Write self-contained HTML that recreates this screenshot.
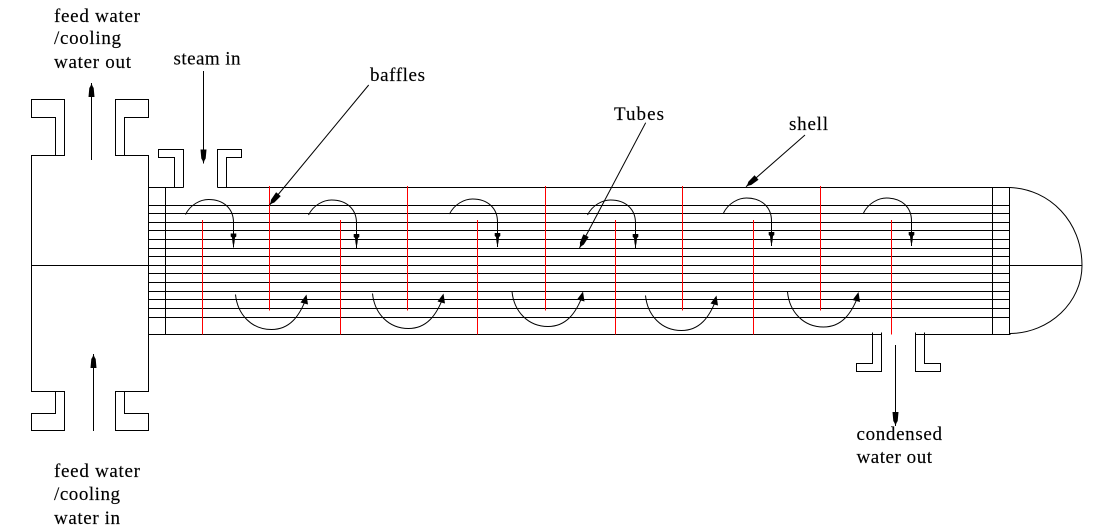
<!DOCTYPE html>
<html>
<head>
<meta charset="utf-8">
<style>
html,body{margin:0;padding:0;background:#fff;width:1098px;height:532px;overflow:hidden}
svg{display:block}
text{font-family:"Liberation Serif",serif;font-size:19px;fill:#000;stroke:#000;stroke-width:.15}
.c{shape-rendering:crispEdges;fill:none;stroke:#000;stroke-width:1}
.r{shape-rendering:crispEdges;fill:none;stroke:#f00;stroke-width:1}
.a{fill:none;stroke:#000;stroke-width:1}
</style>
</head>
<body>
<svg width="1098" height="532" viewBox="0 0 1098 532" xmlns="http://www.w3.org/2000/svg">
<defs>
<polygon id="h" points="0,0 3,-1 5,-2.2 14,-3 14,3 5,2.2 3,1" fill="#000"/>
<g id="top">
<path class="a" d="M0 0C5 -10 15 -15 23 -15C38 -15 48 -6 48 8L48 33"/>
<polygon points="48,33 47,28 46.5,23 45.2,22 45.2,19 50.8,19 50.8,22 49.5,23 49,28" fill="#000"/>
</g>
<g id="bot">
<path class="a" d="M0 0C2 20 16 35 36 35C54 35 64 22 71 3"/>
<polygon points="71,0 72.5,10 65,8" fill="#000"/>
</g>
</defs>

<!-- left channel -->
<path class="c" d="M55.5 155.5H31.5V391.5H55.5"/>
<path class="c" d="M124.5 155.5H148.5V391.5H124.5"/>
<path class="c" d="M55.5 155.5V117.5H31.5V99.5H64.5V155.5H55.5"/>
<path class="c" d="M124.5 155.5V117.5H148.5V99.5H115.5V155.5H124.5"/>
<path class="c" d="M55.5 391.5V413.5H31.5V430.5H64.5V391.5H55.5"/>
<path class="c" d="M124.5 391.5V413.5H148.5V430.5H115.5V391.5H124.5"/>
<path class="c" d="M31.5 265.5H148.5"/>

<!-- shell outline -->
<path class="c" d="M148.5 187.5H183.5M217.5 187.5H1010.5"/>
<path class="c" d="M148.5 334.5H881.5M915.5 334.5H1010.5"/>
<path class="c" d="M165.5 187.5V334.5M992.5 187.5V334.5M1009.5 187.5V334.5"/>

<!-- tubes -->
<path class="c" d="M148.5 205.5H1009.5M148.5 213.5H1009.5M148.5 222.5H1009.5M148.5 230.5H1009.5M148.5 239.5H1009.5M148.5 248.5H1009.5M148.5 256.5H1009.5M148.5 265.5H1082M148.5 273.5H1009.5M148.5 282.5H1009.5M148.5 291.5H1009.5M148.5 299.5H1009.5M148.5 308.5H1009.5M148.5 317.5H1009.5"/>

<!-- dome -->
<path class="a" d="M1010 187.5C1050 189 1082 222 1082 265.5C1082 302 1050 333 1010 333.5"/>

<!-- steam nozzle -->
<path class="c" d="M174.5 187.5V157.5H158.5V149.5H183.5V187.5"/>
<path class="c" d="M226.5 187.5V157.5H241.5V149.5H217.5V187.5"/>

<!-- condensate nozzle -->
<path class="c" d="M872.5 332.5V363.5H856.5V371.5H881.5V332.5"/>
<path class="c" d="M924.5 332.5V363.5H940.5V371.5H915.5V332.5"/>

<!-- baffles -->
<path class="r" d="M202.5 220V334.5M340.5 220V334.5M477.5 220V334.5M615.5 220V334.5M753.5 220V334.5M891.5 220V334.5"/>
<path class="r" d="M269.5 186V310.5M407.5 186V310.5M545.5 186V310.5M682.5 186V310.5M820.5 186V310.5"/>

<!-- straight arrows -->
<path class="c" d="M91.5 83V160"/>
<use href="#h" transform="translate(91.5 83) rotate(90)"/>
<path class="c" d="M203.5 71V163.5"/>
<use href="#h" transform="translate(203.5 163.5) rotate(-90)"/>
<path class="c" d="M93.5 354V431"/>
<use href="#h" transform="translate(93.5 354) rotate(90)"/>
<path class="c" d="M895.5 345V426"/>
<use href="#h" transform="translate(895.5 426) rotate(-90)"/>

<!-- leaders -->
<path class="a" d="M368.7 85L269.5 205"/>
<use href="#h" transform="translate(269.5 205) rotate(-50.4)"/>
<path class="a" d="M645.7 122.7L579.5 248"/>
<use href="#h" transform="translate(579.5 248) rotate(-62.1)"/>
<path class="a" d="M805 135L746 186.7"/>
<use href="#h" transform="translate(746 186.7) rotate(-41.2)"/>

<!-- flow arcs top -->
<use href="#top" transform="translate(185.5 214.5)"/>
<use href="#top" transform="translate(308.5 215)"/>
<use href="#top" transform="translate(449.5 214)"/>
<use href="#top" transform="translate(587.5 215)"/>
<use href="#top" transform="translate(723.5 213)"/>
<use href="#top" transform="translate(863.5 213)"/>

<!-- flow arcs bottom -->
<use href="#bot" transform="translate(235.5 294.5)"/>
<use href="#bot" transform="translate(372.5 293.5)"/>
<use href="#bot" transform="translate(512 291.5)"/>
<use href="#bot" transform="translate(645.5 295.5)"/>
<use href="#bot" transform="translate(787.5 292)"/>

<!-- labels -->
<text x="54" y="22" textLength="86">feed water</text>
<text x="54" y="44" textLength="67">/cooling</text>
<text x="54" y="68" textLength="77">water out</text>
<text x="173.5" y="64.5" textLength="67">steam in</text>
<text x="370" y="81" textLength="55">baffles</text>
<text x="614" y="120" textLength="50">Tubes</text>
<text x="789" y="130" textLength="39">shell</text>
<text x="54" y="477" textLength="86">feed water</text>
<text x="54" y="500" textLength="66">/cooling</text>
<text x="54" y="524" textLength="66">water in</text>
<text x="856.5" y="440" textLength="85.5">condensed</text>
<text x="856.5" y="463" textLength="75.5">water out</text>
</svg>
</body>
</html>
